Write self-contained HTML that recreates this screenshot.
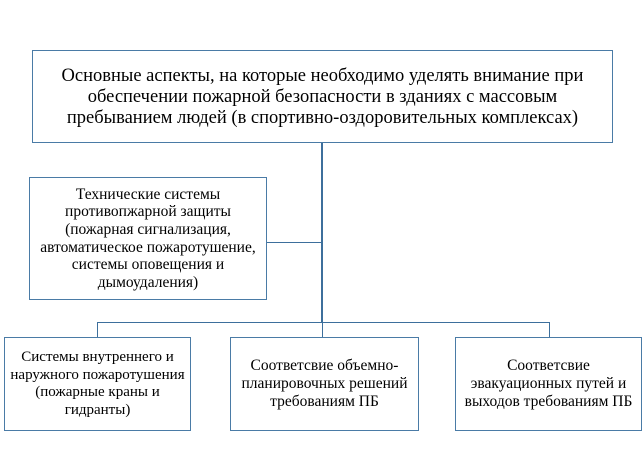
<!DOCTYPE html>
<html><head><meta charset="utf-8"><style>
body{margin:0;width:644px;height:474px;background:#fff;position:relative;font-family:"Liberation Serif",serif;color:#000;overflow:hidden}
.b{position:absolute;border:1px solid #4a7ba6;box-sizing:border-box;display:flex;align-items:center;justify-content:center;text-align:center;background:#fff;white-space:nowrap}
.l{position:absolute;background:#3d6f9c}
</style></head><body>
<div class="l" style="left:321px;top:142px;width:2px;height:181px"></div>
<div class="l" style="left:266px;top:242px;width:56px;height:1px"></div>
<div class="l" style="left:97px;top:322px;width:453px;height:1px"></div>
<div class="l" style="left:97px;top:322px;width:1px;height:15px"></div>
<div class="l" style="left:322px;top:322px;width:1px;height:15px"></div>
<div class="l" style="left:549px;top:322px;width:1px;height:15px"></div>
<div class="b" style="left:32px;top:50px;width:581px;height:93px;font-size:18.5px;line-height:21px;padding-top:2px">Основные аспекты, на которые необходимо уделять внимание при<br>обеспечении пожарной безопасности в зданиях с массовым<br>пребыванием людей (в спортивно-оздоровительных комплексах)</div>
<div class="b" style="left:29px;top:177px;width:238px;height:123px;font-size:15.5px;line-height:17.6px">Технические системы<br>противопжарной защиты<br>(пожарная сигнализация,<br>автоматическое пожаротушение,<br>системы оповещения и<br>дымоудаления)</div>
<div class="b" style="left:4px;top:337px;width:187px;height:94px;font-size:15px;line-height:17.5px">Системы внутреннего и<br>наружного пожаротушения<br>(пожарные краны и<br>гидранты)</div>
<div class="b" style="left:230px;top:337px;width:189px;height:94px;font-size:15.5px;line-height:18px">Соответсвие объемно-<br>планировочных решений<br>требованиям ПБ</div>
<div class="b" style="left:455px;top:337px;width:187px;height:94px;font-size:15.5px;line-height:18px">Соответсвие<br>эвакуационных путей и<br>выходов требованиям ПБ</div>
</body></html>
